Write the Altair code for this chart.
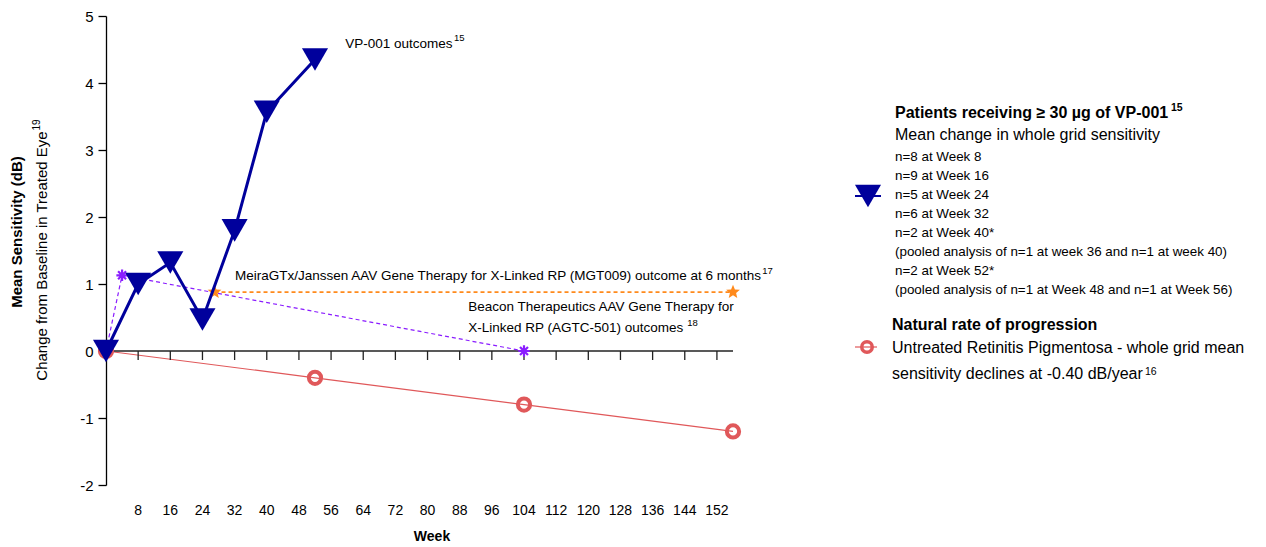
import math

import altair as alt
import pandas as pd

FONT = "Liberation Sans, Arial, sans-serif"

# VP-001 (>= 30 ug) mean change in whole grid sensitivity
vp_weeks = [0, 8, 16, 24, 32, 40, 52]
vp_values = [0.0, 1.0, 1.32, 0.47, 1.8, 3.57, 4.35]

# Beacon Therapeutics AGTC-501
beacon_weeks = [0, 4, 104]
beacon_values = [0.0, 1.13, 0.0]

# MeiraGTx/Janssen MGT009 outcome at 6 months
meira_weeks = [27, 156]
meira_values = [0.88, 0.88]

# Natural progression of untreated RP (-0.40 dB/year)
natural_weeks = [0, 52, 104, 156]
natural_values = [0.0, -0.4, -0.8, -1.2]

week_ticks = list(range(8, 153, 8))
sens_ticks = [-2, -1, 0, 1, 2, 3, 4, 5]

legend_vp_title = "Patients receiving \u2265 30 \u00b5g of VP-001"
legend_vp_sub = "Mean change in whole grid sensitivity"
legend_vp_lines = [
    "n=8 at Week 8",
    "n=9 at Week 16",
    "n=5 at Week 24",
    "n=6 at Week 32",
    "n=2 at Week 40*",
    "(pooled analysis of n=1 at week 36 and n=1 at week 40)",
    "n=2 at Week 52*",
    "(pooled analysis of n=1 at Week 48 and n=1 at Week 56)",
]
legend_nat_title = "Natural rate of progression"
legend_nat_lines = [
    "Untreated Retinitis Pigmentosa - whole grid mean",
    "sensitivity declines at -0.40 dB/year",
]

NAVY = "#00009c"
RED = "#e0585a"
PURPLE = "#8a1cff"
ORANGE = "#ff8a1c"

W, H = 627, 469
Y_MIN, Y_MAX = -2, 5


def y_px(v):
    return H * (Y_MAX - v) / (Y_MAX - Y_MIN)


# symbol paths in Vega's unit square
ASTERISK = "M-1,0L1,0M0,-1L0,1M-0.7,-0.7L0.7,0.7M-0.7,0.7L0.7,-0.7"
_pts = []
for k in range(10):
    r = 1.0 if k % 2 == 0 else 0.45
    a = -math.pi / 2 + k * math.pi / 5
    _pts.append(f"{r * math.cos(a):.3f},{r * math.sin(a):.3f}")
STAR = "M" + "L".join(_pts) + "Z"

vp = pd.DataFrame({"week": vp_weeks, "value": vp_values})
beacon = pd.DataFrame({"week": beacon_weeks, "value": beacon_values})
meira = pd.DataFrame({"week": meira_weeks, "value": meira_values})
natural = pd.DataFrame({"week": natural_weeks, "value": natural_values})
ticks = pd.DataFrame({"week": week_ticks, "label": [str(w) for w in week_ticks]})

x_enc = alt.X(
    "week:Q",
    scale=alt.Scale(domain=[0, 156], nice=False, zero=False),
    axis=None,
)
y_enc = alt.Y(
    "value:Q",
    scale=alt.Scale(domain=[Y_MIN, Y_MAX], nice=False, zero=False),
    axis=alt.Axis(
        values=sens_ticks,
        labelExpr="'' + datum.value",
        tickSize=8,
        tickColor="black",
        tickWidth=1.3,
        domainColor="black",
        domainWidth=1.3,
        grid=False,
        labelFont=FONT,
        labelFontSize=15,
        labelColor="black",
        labelPadding=5,
        title=None,
    ),
)

# zero line with downward ticks, week labels along the bottom
zero_line = alt.Chart(pd.DataFrame({"a": [0], "b": [156], "v": [0]})).mark_rule(
    color="#222", strokeWidth=1.3
).encode(x=alt.X("a:Q"), x2="b:Q", y=alt.Y("v:Q"))
zero_ticks = alt.Chart(ticks).mark_rule(color="#222", strokeWidth=1.3).encode(
    x="week:Q", y=alt.value(y_px(0)), y2=alt.value(y_px(0) + 9)
)
week_labels = alt.Chart(ticks).mark_text(
    font=FONT, fontSize=14, color="black", align="center", baseline="middle"
).encode(x="week:Q", y=alt.value(H + 26), text="label:N")

# natural progression
nat_line = alt.Chart(natural).mark_line(color=RED, strokeWidth=1.2).encode(x=x_enc, y=y_enc)
nat_pts = alt.Chart(natural).mark_point(
    shape="circle", size=150, color=RED, strokeWidth=4, filled=False, opacity=1
).encode(x="week:Q", y="value:Q")

# Beacon
beacon_line = alt.Chart(beacon).mark_line(
    color=PURPLE, strokeWidth=1.2, strokeDash=[4, 3]
).encode(x="week:Q", y="value:Q")
beacon_pts = alt.Chart(beacon[beacon["week"] > 0]).mark_point(
    shape=ASTERISK, size=130, color=PURPLE, strokeWidth=2.2, filled=False, opacity=1
).encode(x="week:Q", y="value:Q")

# MeiraGTx
meira_line = alt.Chart(meira).mark_line(
    color=ORANGE, strokeWidth=1.8, strokeDash=[4, 3]
).encode(x="week:Q", y="value:Q")
meira_pts = alt.Chart(meira).mark_point(
    shape=STAR, size=210, color=ORANGE, filled=True, opacity=1, strokeWidth=0
).encode(x="week:Q", y="value:Q")

# VP-001
vp_line = alt.Chart(vp).mark_line(color=NAVY, strokeWidth=3).encode(x="week:Q", y="value:Q")
vp_pts = alt.Chart(vp).mark_point(
    shape="triangle-down", size=680, color=NAVY, filled=True, opacity=1
).encode(x="week:Q", y="value:Q")


def note(text, week, value, size=13.5, weight="normal"):
    return alt.Chart(pd.DataFrame({"week": [week], "value": [value], "t": [text]})).mark_text(
        align="left", baseline="middle", font=FONT, fontSize=size, fontWeight=weight, color="black"
    ).encode(x="week:Q", y="value:Q", text="t:N")


# annotations on the plot, each with its reference number as superscript
notes = [
    note("VP-001 outcomes", 59.5, 4.58),
    note("15", 86.6, 4.67, size=9.5),
    note("MeiraGTx/Janssen AAV Gene Therapy for X-Linked RP (MGT009) outcome at 6 months", 32.1, 1.12),
    note("17", 163.3, 1.19, size=9.5),
    note("Beacon Therapeutics AAV Gene Therapy for", 90.1, 0.66),
    note("X-Linked RP (AGTC-501) outcomes", 90.1, 0.34),
    note("18", 144.6, 0.42, size=9.5),
]


def ptext(text, px, py, size, weight="normal", angle=0, align="left", baseline="alphabetic"):
    return alt.Chart(pd.DataFrame({"t": [text]})).mark_text(
        align=align, baseline=baseline, font=FONT, fontSize=size, fontWeight=weight,
        color="black", angle=angle,
    ).encode(x=alt.value(px), y=alt.value(py), text="t:N")


# axis titles
titles = [
    ptext("Week", 326, 521, 14, "bold", 0, "center", "middle"),
    ptext("Mean Sensitivity (dB)", -89, 216, 15, "bold", 270, "center", "middle"),
    ptext("Change from Baseline in Treated Eye", -64, 240, 15, "normal", 270, "center", "middle"),
    ptext("19", -69, 109, 10, "normal", 270, "center", "middle"),
]

# custom legend block on the right
LX = 789
legend = [
    ptext(legend_vp_title, LX, 102, 16, "bold"),
    ptext("15", LX + 276, 95, 10.5, "bold"),
    ptext(legend_vp_sub, LX, 124, 16),
]
for i, line in enumerate(legend_vp_lines):
    legend.append(ptext(line, LX, 144.7 + i * 19.05, 13.4))
legend.append(ptext(legend_nat_title, LX - 3, 314, 16, "bold"))
for i, line in enumerate(legend_nat_lines):
    legend.append(ptext(line, LX - 3, 337 + i * 26, 16))
legend.append(ptext("16", LX + 250, 359, 10.5))

one = pd.DataFrame({"k": [0]})
legend_symbols = [
    alt.Chart(one).mark_rule(color=NAVY, strokeWidth=2).encode(
        x=alt.value(749), x2=alt.value(775), y=alt.value(180)),
    alt.Chart(one).mark_point(shape="triangle-down", size=680, color=NAVY, filled=True, opacity=1).encode(
        x=alt.value(762), y=alt.value(180)),
    alt.Chart(one).mark_rule(color=RED, strokeWidth=1.2).encode(
        x=alt.value(749), x2=alt.value(771), y=alt.value(331)),
    alt.Chart(one).mark_point(shape="circle", size=110, color=RED, strokeWidth=3.5, filled=False, opacity=1).encode(
        x=alt.value(761), y=alt.value(331)),
]

chart = alt.layer(
    nat_line, zero_line, zero_ticks, week_labels, nat_pts, beacon_line, beacon_pts, meira_line,
    meira_pts, vp_line, vp_pts, *notes, *titles, *legend, *legend_symbols,
).properties(
    width=W,
    height=H,
    autosize=alt.AutoSizeParams(type="none"),
    padding={"left": 106, "top": 16, "right": 1266 - 106 - W, "bottom": 547 - 16 - H},
    background="white",
).configure_view(stroke=None)

chart.save("out.html", embed_options={"renderer": "svg", "actions": False})
